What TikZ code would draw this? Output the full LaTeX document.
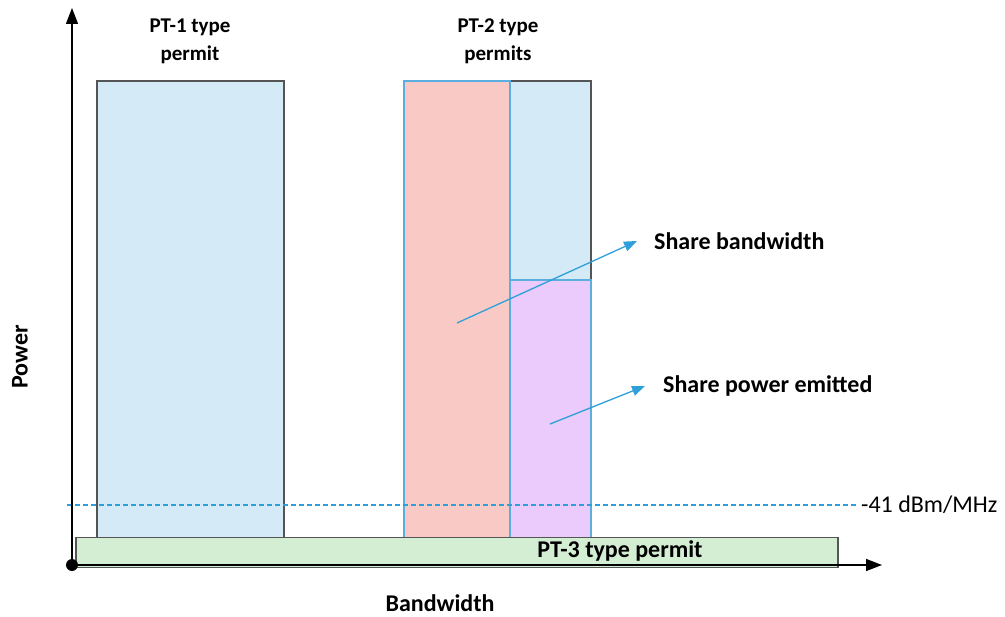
\documentclass[tikz,border=0pt]{standalone}
\usepackage{fontspec}
\setmainfont{Carlito}
\usetikzlibrary{arrows.meta}
\definecolor{lblue}{HTML}{D4EAF6}
\definecolor{pinkf}{HTML}{F9CAC5}
\definecolor{purp}{HTML}{EACBFB}
\definecolor{greenf}{HTML}{D3EED3}
\definecolor{edgeblue}{HTML}{5AAFE0}
\definecolor{arrblue}{HTML}{2E9FDA}
\definecolor{greyedge}{HTML}{555555}
\tikzset{
  lbl/.style={font=\bfseries\fontsize{24}{28}\selectfont, align=center, inner sep=0pt},
  toplbl/.style={font=\bfseries\fontsize{21}{28}\selectfont, align=center, inner sep=0pt},
  box/.style={draw=greyedge, line width=1.5pt},
  bbox/.style={draw=edgeblue, line width=1.5pt},
  axis/.style={line width=1.5pt, -{Triangle[length=16pt,width=12pt]}},
  pointer/.style={draw=arrblue, line width=1.3pt, -{Triangle[length=13pt,width=10pt]}}
}
\begin{document}
\begin{tikzpicture}[x=1pt,y=-1pt]
\useasboundingbox (0,0) rectangle (1005,617);
% boxes
\draw[box, fill=lblue] (97,81) rectangle (284,567);
\draw[box, fill=lblue] (510,81) rectangle (591,280);
\draw[bbox, fill=pinkf] (404,81) rectangle (510,567);
\draw[bbox, fill=purp] (510,280) rectangle (591,567);
\draw[bbox] (510,81) -- (510,280) -- (591,280);
% dashed level
\node[lbl, anchor=west, font=\fontsize{24}{28}\selectfont] (lvl) at (861,505) {-41 dBm/MHz};
\coordinate (dl) at (67,505);
\draw[arrblue, line width=2pt, dash pattern=on 5pt off 3pt] (dl) -- ([xshift=-3pt]lvl.west);
% green bar
\node[box, fill=greenf, minimum width=762pt, minimum height=30pt, anchor=north west, inner sep=0pt] (pt3) at (75,537) {};
\node[lbl] at (620,551) {PT-3 type permit};
% axes
\coordinate (o) at (72,565);
\coordinate (ytip) at (72,8);
\coordinate (xtip) at (882,565);
\draw[axis] (o) -- (ytip);
\draw[axis] (o) -- (xtip);
\fill (o) circle (6);
% labels
\node[toplbl] (pt1) at (190,41) {PT-1 type\\permit};
\node[toplbl] (pt2) at (498,41) {PT-2 type\\permits};
\node[lbl, rotate=90] (pw) at (20,357) {Power};
\node[lbl] (bw) at (440,603) {Bandwidth};
\node[lbl, anchor=west] (sb) at (654,241) {Share bandwidth};
\node[lbl, anchor=west] (sp) at (663,386) {Share power emitted};
\coordinate (sbs) at (457,323);
\coordinate (sps) at (550,424);
\draw[pointer] (sbs) -- ([xshift=-17pt]sb.west);
\draw[pointer] (sps) -- ([xshift=-18pt]sp.west);
\end{tikzpicture}
\end{document}
